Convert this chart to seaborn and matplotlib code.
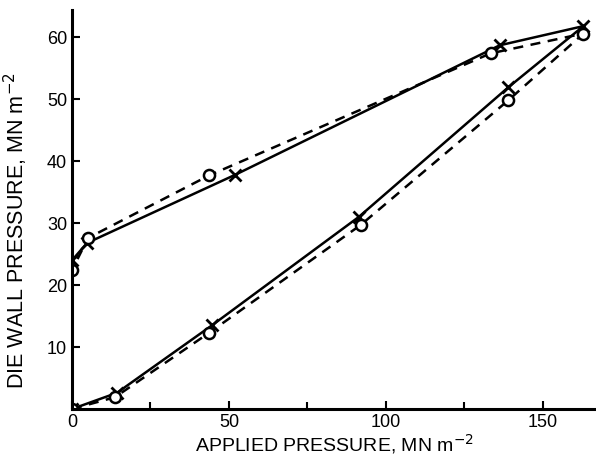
import matplotlib
matplotlib.use("Agg")
import matplotlib.pyplot as plt
import seaborn as sns
import pandas as pd
from matplotlib.ticker import MultipleLocator

# Solid curve (x markers): loading then unloading
solid_x = [0, 14.3, 44.6, 91.4, 139, 163, 136.3, 52, 4.8, 0]
solid_y = [0, 2.6, 13.5, 31, 51.9, 61.8, 58.7, 37.8, 26.8, 24]
# Dashed curve (o markers)
dash_x = [0, 13.7, 43.7, 92, 139, 163, 133.4, 43.7, 5.1, 0]
dash_y = [0, 1.9, 12.3, 29.7, 49.8, 60.6, 57.4, 37.7, 27.6, 22.4]

x_ticks = [0, 50, 100, 150]
y_ticks = [10, 20, 30, 40, 50, 60]

sns.set_style("ticks")
plt.rcParams['font.family'] = ['Liberation Sans Narrow', 'Liberation Sans', 'DejaVu Sans']
plt.rcParams.update({"text.color": "black", "axes.labelcolor": "black",
                     "xtick.color": "black", "ytick.color": "black",
                     "axes.edgecolor": "black"})

fig = plt.figure(figsize=(5.96, 4.57), dpi=100)
ax = fig.add_axes([72/596, 1 - 409/457, (596 - 72)/596, (409 - 10)/457])

df_s = pd.DataFrame({"x": solid_x, "y": solid_y})
df_d = pd.DataFrame({"x": dash_x, "y": dash_y})

sns.lineplot(data=df_s, x="x", y="y", sort=False, estimator=None, ax=ax,
             color="black", linewidth=1.8, marker="x", markersize=8,
             markeredgewidth=2, markeredgecolor="black")
sns.lineplot(data=df_d, x="x", y="y", sort=False, estimator=None, ax=ax,
             color="black", linewidth=1.8, linestyle=(0, (4, 3)), marker="o",
             markersize=8, markerfacecolor="white", markeredgecolor="black",
             markeredgewidth=1.8)

ax.set_xlim(0, 167)
ax.set_ylim(0, 64.4)
ax.set_xticks(x_ticks)
ax.set_yticks(y_ticks)
ax.xaxis.set_minor_locator(MultipleLocator(25))
sns.despine(ax=ax)
for s in ["left", "bottom"]:
    ax.spines[s].set_linewidth(2.2)
ax.tick_params(axis="both", which="both", direction="in", width=1.5, labelsize=13,
               colors="black")
ax.tick_params(axis="both", which="major", length=6)
ax.tick_params(axis="x", which="minor", length=5)

ax.set_xlabel("APPLIED PRESSURE, MN m$^{-2}$", fontsize=14,
              family=['Liberation Sans', 'DejaVu Sans'], labelpad=1)
ax.set_ylabel("DIE WALL PRESSURE, MN m$^{-2}$", fontsize=15.5,
              family=['Liberation Sans', 'DejaVu Sans'])
ax.yaxis.set_label_coords(-0.08, 0.446)

fig.savefig("out.png", dpi=100)
